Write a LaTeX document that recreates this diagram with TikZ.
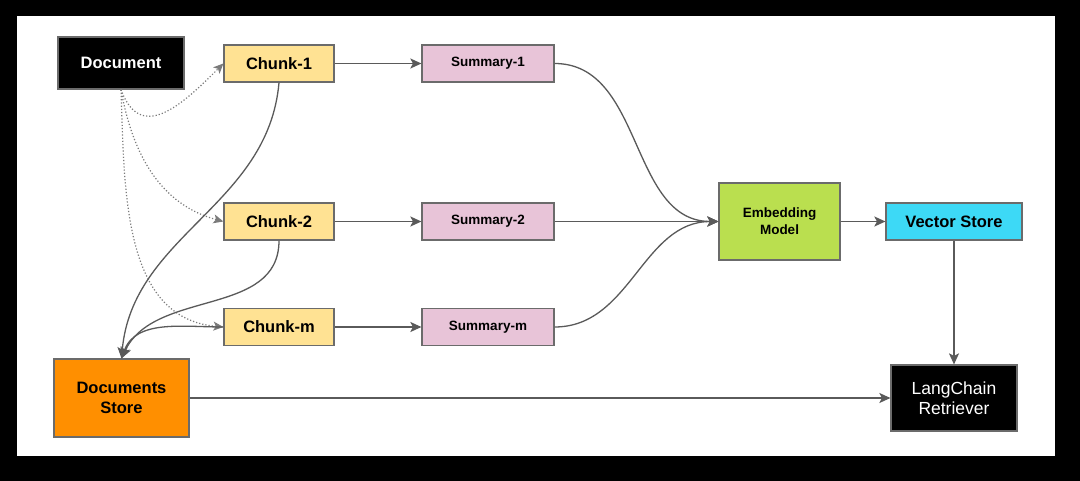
\documentclass[tikz,border=0pt]{standalone}
\usepackage{fontspec}
\setmainfont{Liberation Sans}
\usepackage{xcolor}
\usepackage{tikz}
\usetikzlibrary{arrows.meta}
\usetikzlibrary{shapes.misc}
\definecolor{boxgray}{HTML}{6B6B6B}
\definecolor{linegray}{HTML}{5A5A5A}
\definecolor{chunkyellow}{HTML}{FFE293}
\definecolor{summpink}{HTML}{E8C4D8}
\definecolor{embgreen}{HTML}{BADF4F}
\definecolor{veccyan}{HTML}{3DD9F6}
\definecolor{storeorange}{HTML}{FF8F00}
\tikzstyle{boxnode}=[draw=boxgray, line width=1.2pt, shape=rectangle, inner sep=0pt, align=center, font=\bfseries\fontsize{16.5}{20.5}\selectfont]
\tikzstyle{chunknode}=[boxnode, fill=chunkyellow, minimum width=110pt, minimum height=37pt]
\tikzstyle{summnode}=[boxnode, fill=summpink, minimum width=132pt, minimum height=37pt, font=\bfseries\fontsize{13.5}{16}\selectfont]
\tikzstyle{flow}=[-{Stealth[length=11pt, width=10pt, inset=2.5pt]}, line width=1.3pt, color=linegray]
\tikzstyle{dotflow}=[-{Stealth[length=10pt, width=9pt, inset=2.5pt]}, line width=1.2pt, dotted, color=linegray!80]

\begin{document}
\begin{tikzpicture}[x=1pt, y=1pt]
\fill[black] (0,0) rectangle (1080,-481);
\fill[white] (17,-16) rectangle (1055,-456);

\node [boxnode, fill=black, text=white, minimum width=126pt, minimum height=52pt] (doc) at (121,-63) {Document};
\node [chunknode] (c1) at (279,-63.5) {Chunk-1};
\node [chunknode] (c2) at (279,-221.5) {Chunk-2};
\node [chunknode] (cm) at (279,-327) {Chunk-m};
\node [summnode] (s1) at (488,-63.5) {Summary-1};
\node [summnode] (s2) at (488,-221.5) {Summary-2};
\node [summnode] (sm) at (488,-327) {Summary-m};
\node [boxnode, fill=embgreen, minimum width=121pt, minimum height=77pt, font=\bfseries\fontsize{13.5}{17}\selectfont] (emb) at (779.5,-221.5) {Embedding\\Model};
\node [boxnode, fill=veccyan, minimum width=136pt, minimum height=37pt] (vec) at (954,-221.5) {Vector Store};
\node [boxnode, fill=storeorange, minimum width=135pt, minimum height=78pt] (dstore) at (121.5,-398) {Documents\\Store};
\node [boxnode, fill=black, text=white, minimum width=126pt, minimum height=66pt, font=\fontsize{17.5}{19.5}\selectfont] (lcr) at (954,-398) {LangChain\\Retriever};

\draw[dotflow] (doc.south) to[out=-70, in=225, looseness=1.4] (c1.west);
\draw[dotflow] (doc.south) to[out=-80, in=165] (c2.west);
\draw[dotflow] (doc.south) to[out=-88, in=175] (cm.west);

\draw[flow] (c1.south) to[out=-95, in=85] (dstore.north);
\draw[flow] (c2.south) to[out=-90, in=65] (dstore.north);
\draw[flow] (cm.west) to[out=180, in=70] (dstore.north);

\draw[flow] (c1) -- (s1);
\draw[flow] (c2) -- (s2);
\draw[flow] (cm) -- (sm);
\draw[flow] (s1.east) to[out=0, in=180] (emb.west);
\draw[flow] (s2.east) -- (emb.west);
\draw[flow] (sm.east) to[out=0, in=180] (emb.west);
\draw[flow] (emb) -- (vec);
\draw[flow] (vec) -- (lcr);
\draw[flow] (dstore) -- (lcr);
\end{tikzpicture}
\end{document}
